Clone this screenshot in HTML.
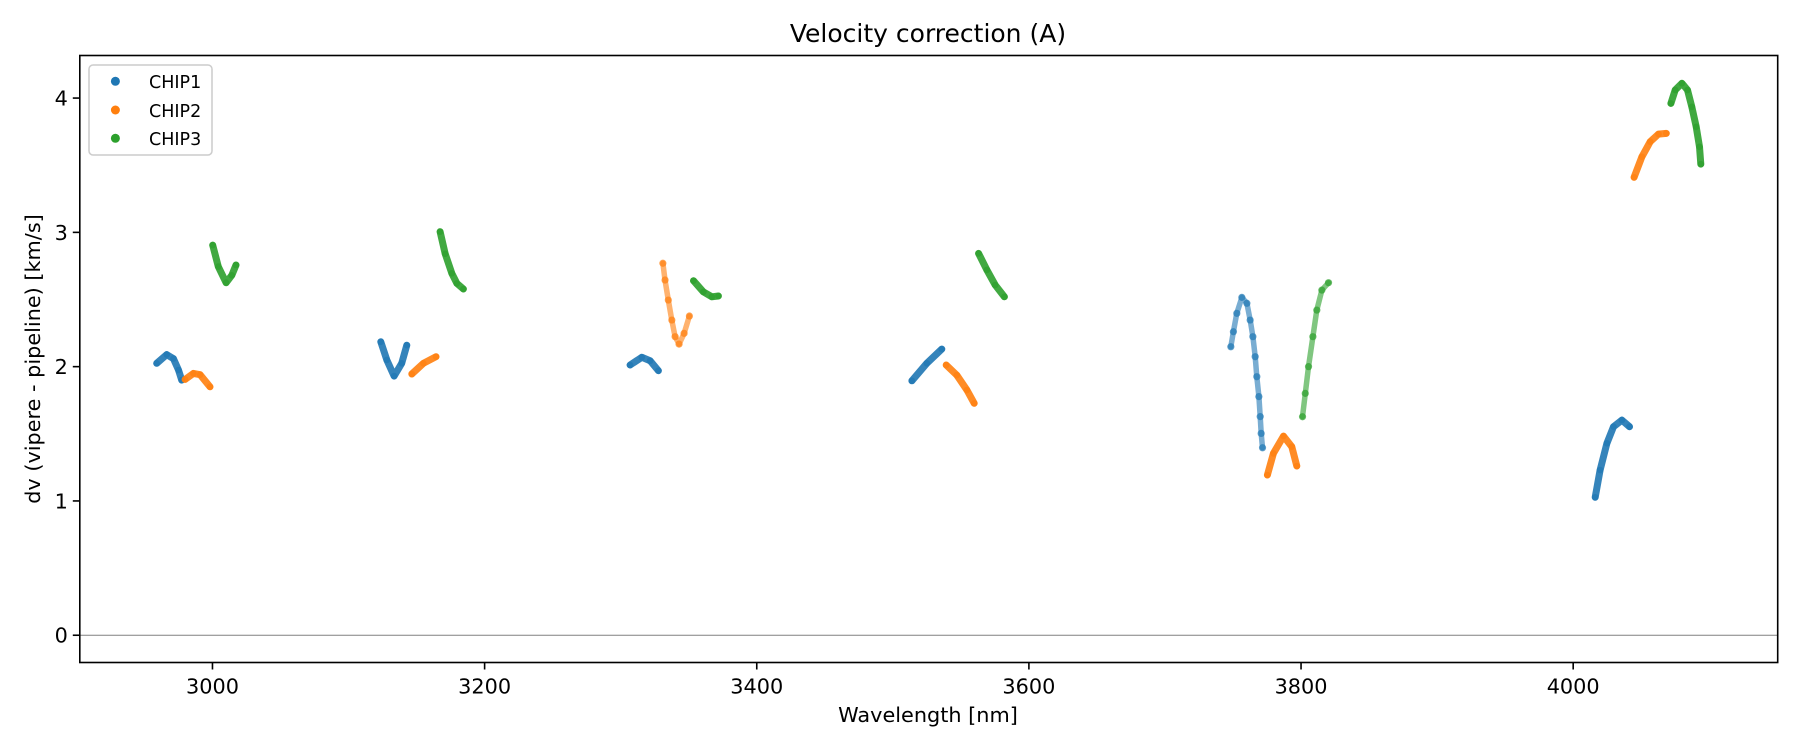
<!DOCTYPE html>
<html><head><meta charset="utf-8"><style>
html,body{margin:0;padding:0;background:#fff;}
svg{display:block;font-family:"DejaVu Sans","Liberation Sans",sans-serif;}
</style></head><body>
<svg id="chart" width="1800" height="750" viewBox="0 0 1800 750" xmlns="http://www.w3.org/2000/svg">
<rect x="0" y="0" width="1800" height="750" fill="#fff"/>
<text x="928" y="42" font-size="25" text-anchor="middle" fill="#000">Velocity correction (A)</text>
<g id="plot"></g>
<text x="928" y="722" font-size="20.8" text-anchor="middle" fill="#000">Wavelength [nm]</text>
<text transform="translate(40,359) rotate(-90)" font-size="20.8" text-anchor="middle" fill="#000">dv (vipere - pipeline) [km/s]</text>
<g>
<rect x="89" y="65" width="123" height="90" rx="4" fill="#fff" stroke="#ccc" stroke-width="1.5"/>
<circle cx="115.4" cy="81.3" r="4.5" fill="#1f77b4"/>
<text x="149" y="88" font-size="17.5" fill="#000">CHIP1</text>
<circle cx="115.4" cy="110" r="4.5" fill="#ff7f0e"/>
<text x="149" y="117" font-size="17.5" fill="#000">CHIP2</text>
<circle cx="115.4" cy="138.3" r="4.5" fill="#2ca02c"/>
<text x="149" y="145" font-size="17.5" fill="#000">CHIP3</text>
</g>
</svg>
<script>
const xTicks = [3000, 3200, 3400, 3600, 3800, 4000];
const yTicks = [0, 1, 2, 3, 4];
const chipNames = ["CHIP1", "CHIP2", "CHIP3"];
const segChip = [0,1,2,2,0,1, 0,1,2,0,1,2, 0,1,2,0,1,2];
const segX = [
 [2959,2966.4,2971.3,2975,2977.4],
 [2979.9,2986,2990.9,2998.2],
 [3000.2,3004.3,3010,3014.2,3017.3],
 [3167.3,3171,3175.9,3179.6,3184.4],
 [3123.7,3128.1,3133.5,3139.1,3142.8],
 [3146.5,3155,3164.3],
 [3306.9,3315.5,3321.6,3327.7],
 [3331,3332.6,3335,3337.6,3340,3342.9,3346.6,3350.5],
 [3353.5,3360.8,3367,3371.8],
 [3514,3525,3536],
 [3539.2,3547,3554.4,3559.8],
 [3563,3569.1,3575.2,3582],
 [3748.4,3750.3,3752.8,3756.5,3760.2,3762.6,3764.6,3766.3,3767.5,3769,3770,3770.7,3771.7],
 [3775.3,3779.7,3787.1,3793.2,3796.9],
 [3801.1,3803.1,3805.5,3808.7,3811.6,3815.3,3820.2],
 [4016.2,4019.8,4024.8,4029.6,4035.8,4041.4],
 [4044.8,4050.5,4056.6,4062.7,4068.4],
 [4071.8,4075,4079.9,4084,4087.2,4090.4,4092.8,4093.8]
];
const segY = [
 [2.025,2.09,2.06,1.975,1.90],
 [1.905,1.95,1.94,1.85],
 [2.905,2.745,2.625,2.68,2.757],
 [3.005,2.84,2.695,2.62,2.578],
 [2.185,2.05,1.93,2.025,2.16],
 [1.945,2.025,2.074],
 [2.012,2.07,2.044,1.97],
 [2.77,2.645,2.496,2.347,2.223,2.168,2.248,2.377],
 [2.64,2.557,2.52,2.526],
 [1.895,2.025,2.131],
 [2.012,1.937,1.826,1.727],
 [2.843,2.72,2.608,2.52],
 [2.148,2.26,2.397,2.516,2.472,2.347,2.223,2.074,1.925,1.777,1.628,1.503,1.396],
 [1.193,1.354,1.483,1.404,1.26],
 [1.627,1.801,2.0,2.223,2.421,2.57,2.625],
 [1.027,1.23,1.429,1.553,1.602,1.553],
 [3.41,3.563,3.675,3.732,3.737],
 [3.96,4.06,4.11,4.06,3.935,3.786,3.637,3.508]
];
const sparseSegs = [7, 12, 14];

const colors = ["#1f77b4", "#ff7f0e", "#2ca02c"];
const L = 79.8, R = 1777.7, T = 55.5, B = 662.5;
const xMin = 2902.5, xMax = 4150.3, yMin = -0.203, yMax = 4.317;
function xs(v){ return L + (v - xMin) / (xMax - xMin) * (R - L); }
function ys(v){ return B - (v - yMin) / (yMax - yMin) * (B - T); }

const NS = "http://www.w3.org/2000/svg";
const plot = document.getElementById("plot");
function mk(tag, attrs){ const e = document.createElementNS(NS, tag); for (const k in attrs) e.setAttribute(k, attrs[k]); return e; }

const zl = mk("line", {x1:L, x2:R, y1:ys(0), y2:ys(0), stroke:"#808080", "stroke-width":1});


plot.appendChild(zl);

for (let s = 0; s < segX.length; s++) {
  const c = colors[segChip[s]];
  const sparse = sparseSegs.indexOf(s) >= 0;
  const g = mk("g", {});
  
  
  let d = "";
  for (let i = 0; i < segX[s].length; i++) d += (i ? "L" : "M") + xs(segX[s][i]).toFixed(1) + "," + ys(segY[s][i]).toFixed(1);
  const p = mk("path", {d:d, fill:"none", stroke:c, "stroke-width": sparse ? 5.5 : 7, "stroke-linecap":"round", "stroke-linejoin":"round", opacity: sparse ? 0.6 : 0.9});
  
  
  g.appendChild(p);
  for (let i = 0; i < segX[s].length; i++) {
    const pt = mk("circle", {cx:xs(segX[s][i]), cy:ys(segY[s][i]), r: sparse ? 3.6 : 3.3, fill:c, opacity:0.7});
    
    
    g.appendChild(pt);
  }
  plot.appendChild(g);
}

const fr = mk("rect", {x:L, y:T, width:R-L, height:B-T, fill:"none", stroke:"#000", "stroke-width":1.6});


plot.appendChild(fr);

xTicks.forEach(function(t){
  const x = xs(t);
  const tk = mk("line", {x1:x, x2:x, y1:B, y2:B+7, stroke:"#000", "stroke-width":1.6});
  
  
  plot.appendChild(tk);
  const lb = mk("text", {x:x, y:B+31, "font-size":20.8, "text-anchor":"middle", fill:"#000"});
  lb.textContent = String(t);
  
  
  plot.appendChild(lb);
});
yTicks.forEach(function(t){
  const y = ys(t);
  const tk = mk("line", {x1:L-7, x2:L, y1:y, y2:y, stroke:"#000", "stroke-width":1.6});
  
  
  plot.appendChild(tk);
  const lb = mk("text", {x:L-12, y:y+7.5, "font-size":20.8, "text-anchor":"end", fill:"#000"});
  lb.textContent = String(t);
  
  
  plot.appendChild(lb);
});
</script>
</body></html>
